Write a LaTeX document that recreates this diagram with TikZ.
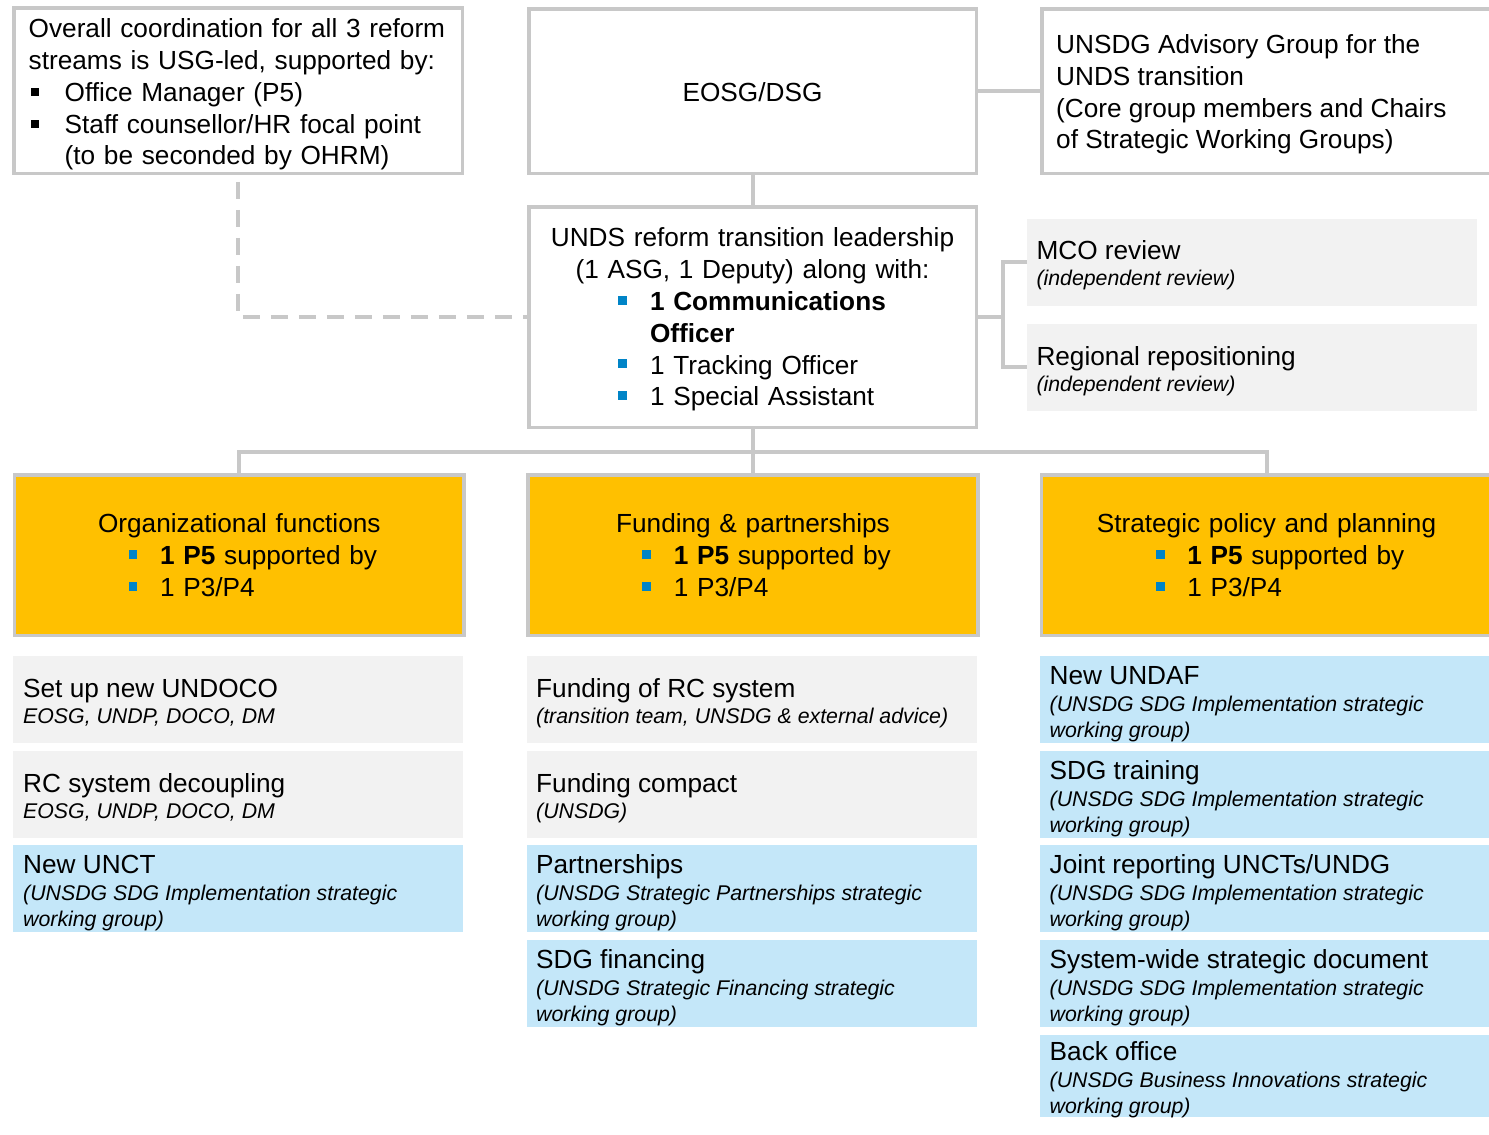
\documentclass[tikz,border=0pt]{standalone}
\usepackage{fontspec}
\setmainfont{Liberation Sans}
\definecolor{linegray}{RGB}{200,200,200}
\definecolor{boxorange}{RGB}{255,192,0}
\definecolor{lgray}{RGB}{242,242,242}
\definecolor{lblue}{RGB}{196,231,249}
\definecolor{bulblue}{RGB}{0,132,199}
\newcommand\sqblk{\rule[5.4pt]{8pt}{8pt}}
\newcommand\sqblu{\textcolor{bulblue}{\rule[6pt]{8.7pt}{8.7pt}}}
\newcommand\tstrut{\rule{0pt}{20pt}}
\newcommand\ttl[1]{{\fontsize{26.2}{26}\selectfont\upshape\tstrut #1}}
\newcommand\bitem[3]{\par\noindent\makebox[#1][l]{#2}#3\par}
\newcommand\bcont[2]{\par\noindent\hspace*{#1}#2\par}
\begin{document}
\begin{tikzpicture}[x=1pt,y=-1pt,
  tbox/.style={draw=linegray,line width=3.5pt,fill=white,inner sep=0pt,outer sep=0pt},
  tobox/.style={tbox,fill=boxorange,minimum width=449.8pt,minimum height=160.5pt},
  tgbox/.style={fill=lgray,inner sep=0pt,outer sep=0pt,minimum width=450pt,minimum height=86.7pt},
  tbbox/.style={tgbox,fill=lblue},
  tmain/.style={inner sep=0pt,font=\fontsize{26.2}{31.8}\selectfont},
  tsub/.style={inner sep=0pt,align=left,anchor=north west,font=\fontsize{21.3}{25.6}\selectfont\itshape},
  tconn/.style={draw=linegray,line width=4pt},
  tdconn/.style={tconn,dash pattern=on 17pt off 11pt}]
\useasboundingbox (0,0) rectangle (1489,1135);

% ---------- top row boxes ----------
\node[tbox,minimum width=448.5pt,minimum height=165.5pt] (tl) at (238,90.5) {};
\node[tbox,minimum width=447.5pt,minimum height=164.5pt] (eosg) at (752.5,91) {};
\node[tbox,minimum width=456.5pt,minimum height=164.5pt] (adv) at (1270,91) {};
\node[tbox,minimum width=447.5pt,minimum height=220.5pt] (unds) at (752.5,317) {};
\node[tgbox] (mco) at (1252,262.3) {};
\node[tgbox] (reg) at (1252,367.3) {};

% ---------- orange boxes ----------
\node[tobox] (org) at (239.3,555) {};
\node[tobox] (fun) at (753,555) {};
\node[tobox] (str) at (1266.5,555) {};

% ---------- lower boxes ----------
\node[tgbox] (l1) at (238.3,699.3) {};
\node[tgbox] (l2) at (238.3,794.3) {};
\node[tbbox] (l3) at (238.3,888.3) {};
\node[tgbox] (m1) at (752,699.3) {};
\node[tgbox] (m2) at (752,794.3) {};
\node[tbbox] (m3) at (752,888.3) {};
\node[tbbox] (m4) at (752,983.3) {};
\node[tbbox] (r1) at (1265,699.3) {};
\node[tbbox] (r2) at (1265,794.3) {};
\node[tbbox] (r3) at (1265,888.3) {};
\node[tbbox] (r4) at (1265,983.3) {};
\node[tbbox,minimum height=81.7pt] (r5) at (1265,1075.8) {};

% ---------- connectors ----------
\coordinate (bus) at (0,451.7);
\coordinate (brk) at (1002.7,317);
\draw[tconn] (eosg.south) -- (unds.north);
\draw[tconn] (eosg.east) -- (adv.west);
\draw[tconn] (unds.south) -- (unds.south |- bus);
\draw[tconn] (org.north) |- (str.north |- bus) -- (str.north);
\draw[tconn] (fun.north) -- (fun.north |- bus);
\draw[tconn] (unds.east) -- (brk);
\draw[tconn] (mco.west) -| (brk) |- (reg.west);
\draw[tdconn] ([yshift=-8.5pt]tl.south) |- (unds.west);

% ---------- texts ----------
\node[tmain,text width=430pt,anchor=north west] (tltext) at (28.5,17.5) {\raggedright\tstrut Overall coordination for all 3 reform\\streams is USG-led, supported by:\par
\bitem{36pt}{\hspace*{2.5pt}\sqblk}{Office Manager (P5)}%
\bitem{36pt}{\hspace*{2.5pt}\sqblk}{Staff counsellor/HR focal point}%
\bcont{36pt}{(to be seconded by OHRM)}};

\node[tmain,anchor=base] (eosgtext) at (752.5,101.5) {EOSG/DSG};

\node[tmain,align=left,anchor=north west] (advtext) at (1056,33.3) {\tstrut UNSDG Advisory Group for the\\UNDS transition\\(Core group members and Chairs\\of Strategic Working Groups)};

\node[tmain,text width=440pt,anchor=north] (undstext) at (752.5,226.7) {{\centering\tstrut UNDS reform transition leadership\\(1 ASG, 1 Deputy) along with:\par}
\raggedright\leftskip=85.8pt
\bitem{31.7pt}{\sqblu}{\textbf{1 Communications}}%
\bcont{31.7pt}{\textbf{Officer}}%
\bitem{31.7pt}{\sqblu}{1 Tracking Officer}%
\bitem{31.7pt}{\sqblu}{1 Special Assistant}};

\node[tsub] (mcotext) at (1036.3,239) {\ttl{MCO review}\\[0.4pt](independent review)};
\node[tsub] (regtext) at (1036.3,345) {\ttl{Regional repositioning}\\[0.4pt](independent review)};

\node[tmain,text width=400pt,anchor=north] (orgtext) at (239.3,512.7) {{\centering\tstrut Organizational functions\par}\raggedright\leftskip=89.3pt
\bitem{31.5pt}{\sqblu}{\textbf{1 P5} supported by}%
\bitem{31.5pt}{\sqblu}{1 P3/P4}};
\node[tmain,text width=400pt,anchor=north] (funtext) at (753,512.7) {{\centering\tstrut Funding \& partnerships\par}\raggedright\leftskip=89.3pt
\bitem{31.5pt}{\sqblu}{\textbf{1 P5} supported by}%
\bitem{31.5pt}{\sqblu}{1 P3/P4}};
\node[tmain,text width=400pt,anchor=north] (strtext) at (1266.5,512.7) {{\centering\tstrut Strategic policy and planning\par}\raggedright\leftskip=89.3pt
\bitem{31.5pt}{\sqblu}{\textbf{1 P5} supported by}%
\bitem{31.5pt}{\sqblu}{1 P3/P4}};

\node[tsub] (l1text) at (23,677.3) {\ttl{Set up new UNDOCO}\\[0.4pt]EOSG, UNDP, DOCO, DM};
\node[tsub] (l2text) at (23,772.3) {\ttl{RC system decoupling}\\[0.4pt]EOSG, UNDP, DOCO, DM};
\node[tsub] (l3text) at (23,853) {\ttl{New UNCT}\\[1.7pt](UNSDG SDG Implementation strategic\\working group)};

\node[tsub] (m1text) at (536,677.3) {\ttl{Funding of RC system}\\[0.4pt](transition team, UNSDG \& external advice)};
\node[tsub] (m2text) at (536,772.3) {\ttl{Funding compact}\\[0.4pt](UNSDG)};
\node[tsub] (m3text) at (536,853) {\ttl{Partnerships}\\[1.7pt](UNSDG Strategic Partnerships strategic\\working group)};
\node[tsub] (m4text) at (536,948) {\ttl{SDG financing}\\[1.7pt](UNSDG Strategic Financing strategic\\working group)};

\node[tsub] (r1text) at (1049.5,664) {\ttl{New UNDAF}\\[1.7pt](UNSDG SDG Implementation strategic\\working group)};
\node[tsub] (r2text) at (1049.5,759) {\ttl{SDG training}\\[1.7pt](UNSDG SDG Implementation strategic\\working group)};
\node[tsub] (r3text) at (1049.5,853) {\ttl{Joint reporting UNCTs/UNDG}\\[1.7pt](UNSDG SDG Implementation strategic\\working group)};
\node[tsub] (r4text) at (1049.5,948) {\ttl{System-wide strategic document}\\[1.7pt](UNSDG SDG Implementation strategic\\working group)};
\node[tsub] (r5text) at (1049.5,1040) {\ttl{Back office}\\[1.7pt](UNSDG Business Innovations strategic\\working group)};
\end{tikzpicture}
\end{document}
